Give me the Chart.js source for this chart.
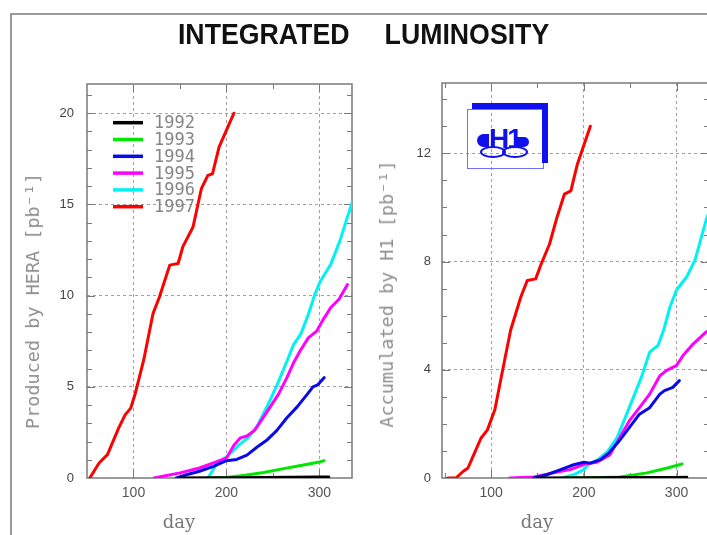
<!DOCTYPE html>
<html><head><meta charset="utf-8">
<script src="https://cdn.jsdelivr.net/npm/chart.js@4"></script>
<style>
html,body{margin:0;padding:0;background:#fff;overflow:hidden;width:707px;height:535px;}
#wrap{position:relative;width:707px;height:535px;overflow:hidden;background:#fff;}
#c1{position:absolute;left:0;top:0;}
#c2{position:absolute;left:360px;top:0;}
.fTop{position:absolute;left:10px;top:13px;width:697px;height:2px;background:#9a9a9a;}
.fLeft{position:absolute;left:10px;top:13px;width:2px;height:522px;background:#9a9a9a;}
#title{position:absolute;left:10px;top:19px;width:707px;text-align:center;font:bold 30px "Liberation Sans",Arial,sans-serif;line-height:30px;white-space:pre;color:#111;}
#title span{display:inline-block;transform:scaleX(0.89);transform-origin:center;word-spacing:4.8px;}
.ytitle{position:absolute;font:18.5px "DejaVu Sans Mono",monospace;color:#8e8e8e;white-space:pre;line-height:22px;transform:translate(-50%,-50%) rotate(-90deg);}
.xtitle{position:absolute;font:18px "DejaVu Serif",serif;color:#777;white-space:pre;line-height:22px;transform:translate(-50%,-50%);}
.lg{position:absolute;}
</style>
</head>
<body>
<div id="wrap">
  <canvas id="c1" width="360" height="535"></canvas>
  <canvas id="c2" width="360" height="535"></canvas>
  <div class="fTop"></div><div class="fLeft"></div>
  <div id="title"><span>INTEGRATED   LUMINOSITY</span></div>
  <div class="ytitle" style="left:33px;top:301px;">Produced by HERA [pb⁻¹]</div>
  <div class="ytitle" style="left:387px;top:294px;">Accumulated by H1 [pb⁻¹]</div>
  <div class="xtitle" style="left:179px;top:522px;">day</div>
  <div class="xtitle" style="left:537px;top:522px;">day</div>
  <!-- H1 logo -->
  <div class="lg" style="left:467px;top:109px;width:75px;height:58px;border:1px solid #7070ff;"></div>
  <div class="lg" style="left:472px;top:103px;width:70px;height:54px;border-top:6px solid #1010ee;border-right:6px solid #1010ee;"></div>
  <div class="lg" style="left:480px;top:146px;width:22px;height:8px;border:2px solid #1010ee;border-radius:50%;"></div>
  <div class="lg" style="left:502px;top:146px;width:22px;height:8px;border:2px solid #1010ee;border-radius:50%;"></div>
  <div class="lg" style="left:477px;top:134px;width:12px;height:13px;background:#1010ee;border-radius:7px 0 0 7px;"></div>
  <div class="lg" style="left:517px;top:137px;width:12px;height:10px;background:#1010ee;border-radius:0 6px 6px 0;"></div>
  <div class="lg" style="left:489px;top:124px;font:bold 28px 'Liberation Sans',Arial,sans-serif;line-height:30px;color:#1010ee;letter-spacing:-2px;">H1</div>
</div>
<script>
// ---------- DATA ----------
const years = ['1992', '1993', '1994', '1995', '1996', '1997'];

// HERA produced (left panel): day, integrated luminosity [pb^-1]
const hera1992Days = [150, 180, 210, 240, 270, 300, 310];
const hera1992Lumi = [0, 0.01, 0.02, 0.03, 0.04, 0.05, 0.06];
const hera1993Days = [180, 200, 220, 240, 260, 280, 300, 305];
const hera1993Lumi = [0, 0.03, 0.15, 0.3, 0.5, 0.68, 0.88, 0.95];
const hera1994Days = [146, 157, 171, 186, 200, 211, 222, 233, 244, 254, 265, 276, 287, 293, 298, 305];
const hera1994Lumi = [0, 0.18, 0.37, 0.64, 0.95, 1.02, 1.25, 1.7, 2.1, 2.6, 3.3, 3.9, 4.6, 5.0, 5.1, 5.5];
const hera1995Days = [122, 150, 171, 186, 200, 208, 215, 222, 230, 238, 247, 256, 265, 272, 279, 288, 297, 303, 312, 321, 330];
const hera1995Lumi = [0, 0.28, 0.55, 0.83, 1.1, 1.8, 2.2, 2.3, 2.6, 3.2, 3.9, 4.6, 5.5, 6.3, 6.95, 7.68, 8.05, 8.6, 9.33, 9.8, 10.6];
const hera1996Days = [180, 189, 200, 214, 223, 232, 243, 254, 265, 272, 280, 288, 295, 301, 312, 322, 331, 337];
const hera1996Lumi = [0, 0.73, 1.15, 1.83, 2.2, 2.75, 3.85, 5.05, 6.4, 7.3, 7.9, 8.96, 10.06, 10.79, 11.7, 13.0, 14.45, 15.4];
const hera1997Days = [53, 63, 72, 84, 91, 97, 102, 111, 121, 128, 139, 148, 153, 164, 173, 180, 185, 192, 208];
const hera1997Lumi = [0, 0.82, 1.28, 2.73, 3.46, 3.83, 4.65, 6.47, 9.02, 9.94, 11.67, 11.76, 12.67, 13.76, 15.86, 16.59, 16.68, 18.14, 20.0];

// Accumulated by H1 (right panel)
const h1_1992Days = [150, 200, 250, 300, 311];
const h1_1992Lumi = [0, 0.01, 0.015, 0.02, 0.03];
const h1_1993Days = [178, 210, 239, 268, 290, 306];
const h1_1993Lumi = [0, 0.01, 0.04, 0.19, 0.37, 0.52];
const h1_1994Days = [146, 160, 175, 189, 200, 207, 218, 227, 238, 249, 260, 271, 282, 287, 296, 303];
const h1_1994Lumi = [0, 0.12, 0.31, 0.49, 0.58, 0.55, 0.68, 0.93, 1.36, 1.86, 2.36, 2.6, 3.1, 3.23, 3.35, 3.6];
const h1_1995Days = [120, 146, 167, 185, 203, 214, 228, 238, 249, 260, 271, 282, 289, 300, 307, 318, 332, 336];
const h1_1995Lumi = [0, 0.04, 0.19, 0.31, 0.53, 0.58, 0.85, 1.45, 2.11, 2.6, 3.1, 3.78, 3.97, 4.16, 4.53, 4.96, 5.4, 5.45];
const h1_1996Days = [176, 189, 200, 205, 214, 225, 236, 249, 262, 271, 280, 286, 293, 300, 311, 320, 327, 332, 337];
const h1_1996Lumi = [0, 0.12, 0.31, 0.5, 0.65, 0.95, 1.5, 2.6, 3.72, 4.65, 4.9, 5.46, 6.33, 6.95, 7.44, 8.06, 8.93, 9.55, 10.0];
const h1_1997Days = [53, 62, 70, 75, 82, 89, 96, 104, 111, 121, 132, 139, 148, 154, 163, 171, 179, 186, 193, 207];
const h1_1997Lumi = [0, 0, 0.25, 0.37, 0.92, 1.47, 1.78, 2.52, 3.74, 5.46, 6.69, 7.30, 7.36, 7.91, 8.65, 9.63, 10.49, 10.61, 11.60, 13.0];

// tick labels
const xTickLabels = ['100', '200', '300'];
const leftYTickLabels = ['0', '5', '10', '15', '20'];
const rightYTickLabels = ['0', '4', '8', '12'];

// ---------- STYLE ----------
const colors = ['#000000', '#00e600', '#0a0ae6', '#ff00ff', '#00f2f2', '#ff0000'];

function pts(d, v) { return d.map((x, i) => ({x: x, y: v[i]})); }

const leftSeries = [
  pts(hera1992Days, hera1992Lumi), pts(hera1993Days, hera1993Lumi), pts(hera1994Days, hera1994Lumi),
  pts(hera1995Days, hera1995Lumi), pts(hera1996Days, hera1996Lumi), pts(hera1997Days, hera1997Lumi)
];
const rightSeries = [
  pts(h1_1992Days, h1_1992Lumi), pts(h1_1993Days, h1_1993Lumi), pts(h1_1994Days, h1_1994Lumi),
  pts(h1_1995Days, h1_1995Lumi), pts(h1_1996Days, h1_1996Lumi), pts(h1_1997Days, h1_1997Lumi)
];

function makeDatasets(series) {
  return series.map((s, i) => ({
    label: years[i], data: s, borderColor: colors[i], backgroundColor: colors[i],
    borderWidth: 3, pointRadius: 0, tension: 0, fill: false, borderJoinStyle: 'round', borderCapStyle: 'round'
  }));
}

const framePlugin = {
  id: 'frame',
  beforeDatasetsDraw(chart, args, opts) {
    const {ctx, chartArea: a, scales: {x, y}} = chart;
    ctx.save();
    ctx.strokeStyle = '#7a7a7a';
    ctx.lineWidth = 1.5;
    ctx.strokeRect(a.left, a.top, a.right - a.left, a.bottom - a.top);
    ctx.lineWidth = 1;
    ctx.beginPath();
    x.ticks.forEach(t => {
      if (t.value <= x.min || t.value >= x.max || t.value % 50 !== 0) return;
      const px = Math.round(x.getPixelForValue(t.value)) + 0.5;
      const L = t.value % 100 === 0 ? 8 : 5;
      ctx.moveTo(px, a.top); ctx.lineTo(px, a.top + L);
      ctx.moveTo(px, a.bottom); ctx.lineTo(px, a.bottom - L);
    });
    y.ticks.forEach(t => {
      if (t.value <= y.min || t.value >= y.max || t.value % 1 !== 0) return;
      const py = Math.round(y.getPixelForValue(t.value)) + 0.5;
      const L = t.value % opts.major === 0 ? 8 : 5;
      ctx.moveTo(a.left, py); ctx.lineTo(a.left + L, py);
      ctx.moveTo(a.right, py); ctx.lineTo(a.right - L, py);
    });
    ctx.stroke();
    ctx.restore();
  }
};

const legendPlugin = {
  id: 'inlegend',
  afterDraw(chart, args, opts) {
    if (!opts.show) return;
    const {ctx, chartArea: a} = chart;
    ctx.save();
    chart.data.datasets.forEach((ds, i) => {
      const yy = a.top + 38.7 + i * 16.8;
      ctx.strokeStyle = ds.borderColor;
      ctx.lineWidth = 3.5;
      ctx.beginPath(); ctx.moveTo(a.left + 26, yy); ctx.lineTo(a.left + 56, yy); ctx.stroke();
      ctx.fillStyle = '#858585';
      ctx.font = '17px "DejaVu Sans Mono", monospace';
      ctx.textBaseline = 'middle';
      ctx.textAlign = 'left';
      ctx.fillText(ds.label, a.left + 67, yy + 1);
    });
    ctx.restore();
  }
};

function makeChart(id, series, cfg) {
  return new Chart(document.getElementById(id), {
    type: 'line',
    data: {datasets: makeDatasets(series)},
    plugins: [framePlugin, legendPlugin],
    options: {
      responsive: false, animation: false, events: [],
      layout: {padding: {left: 0, right: cfg.padRight, top: cfg.padTop, bottom: 0}},
      plugins: {
        legend: {display: false}, tooltip: {enabled: false},
        frame: {major: cfg.yMajor},
        inlegend: {show: cfg.legend}
      },
      scales: {
        x: {
          type: 'linear', min: cfg.xMin, max: 335,
          afterFit(s) { s.height = 57; },
          grid: {drawTicks: false, lineWidth: 1,
            color: c => (c.tick && xTickLabels.includes(String(c.tick.value))) ? '#a0a0a0' : 'rgba(0,0,0,0)'},
          border: {display: false, dash: [3, 3]},
          ticks: {stepSize: 50, includeBounds: false, autoSkip: false, maxRotation: 0, padding: 7, color: '#555',
            font: {family: 'Liberation Sans', size: 14},
            callback: v => xTickLabels.includes(String(v)) ? String(v) : ''}
        },
        y: {
          type: 'linear', min: 0, max: cfg.yMax,
          afterFit(s) { s.width = cfg.yWidth; },
          grid: {drawTicks: false, lineWidth: 1,
            color: c => (c.tick && c.tick.value > 0 && cfg.yLabels.includes(String(c.tick.value))) ? '#a0a0a0' : 'rgba(0,0,0,0)'},
          border: {display: false, dash: [3, 3]},
          ticks: {stepSize: 1, includeBounds: false, autoSkip: false, padding: cfg.yPad, color: '#444',
            font: {family: 'Liberation Sans', size: 13},
            callback: v => cfg.yLabels.includes(String(v)) ? String(v) : ''}
        }
      }
    }
  });
}

makeChart('c1', leftSeries, {xMin: 50, yMax: 21.6, yMajor: 5, yLabels: leftYTickLabels,
  padRight: 8, padTop: 84, yWidth: 87, yPad: 13, legend: true});
makeChart('c2', rightSeries, {xMin: 47, yMax: 14.6, yMajor: 4, yLabels: rightYTickLabels,
  padRight: 11, padTop: 83, yWidth: 82, yPad: 11, legend: false});
</script>
</body></html>
